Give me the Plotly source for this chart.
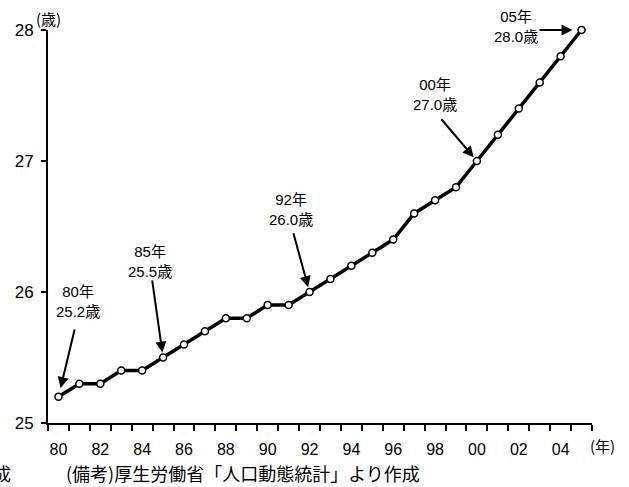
import plotly.graph_objects as go

# Average age of mothers at first birth, 1980-2005
years = list(range(1980, 2006))
ages = [25.2, 25.3, 25.3, 25.4, 25.4, 25.5, 25.6, 25.7, 25.8, 25.8,
        25.9, 25.9, 26.0, 26.1, 26.2, 26.3, 26.4, 26.6, 26.7, 26.8,
        27.0, 27.2, 27.4, 27.6, 27.8, 28.0]

x_tick_vals = list(range(1980, 2005, 2))
x_tick_text = [f"{y % 100:02d}" for y in x_tick_vals]
y_tick_vals = [25, 26, 27, 28]

# Highlighted years: (year, tail x, tail y, label x, label y (paper), standoff)
callouts = [
    (1980, 1980.79, 25.725, 1980.93, 0.308, 9),
    (1985, 1984.47, 26.10, 1984.38, 0.410, 5),
    (1992, 1991.21, 26.46, 1991.12, 0.543, 5),
    (2000, 1998.24, 27.33, 1998.00, 0.837, 5),
    (2005, 2002.92, 28.00, 2001.87, 1.008, 9),
]

LATIN = "Liberation Sans, Arial, Noto Sans CJK JP"
CJK = "Noto Sans CJK JP, Liberation Sans"

fig = go.Figure()
fig.add_trace(go.Scatter(
    x=years, y=ages, mode="lines+markers",
    line=dict(color="black", width=3.5),
    marker=dict(symbol="circle", size=7, color="white",
                line=dict(color="black", width=1.5)),
    cliponaxis=False, showlegend=False, hoverinfo="skip",
))

annotations = []
lookup = dict(zip(years, ages))
for yr, tx, ty, lx, ly, so in callouts:
    val = lookup[yr]
    annotations.append(dict(
        x=yr, y=val, ax=tx, ay=ty, xref="x", yref="y", axref="x", ayref="y",
        text="", showarrow=True, arrowhead=2, arrowsize=1.1, arrowwidth=2,
        arrowcolor="black", standoff=so,
    ))
    annotations.append(dict(
        x=lx, y=ly, xref="x", yref="paper", showarrow=False,
        text=f"{yr % 100:02d}年<br>{val:.1f}歳",
        font=dict(family=LATIN, size=15, color="black"),
        xanchor="center", yanchor="middle",
    ))

annotations += [
    dict(x=0.0, y=1.03, xref="paper", yref="paper", text="(歳)",
         showarrow=False, xanchor="center", yanchor="middle",
         font=dict(family=CJK, size=15, color="black")),
    dict(x=0.993, y=-0.056, xref="paper", yref="paper", text="(年)",
         showarrow=False, xanchor="left", yanchor="middle",
         font=dict(family=CJK, size=15, color="black")),
    dict(x=0.03, y=-0.128, xref="paper", yref="paper",
         text="(備考)厚生労働省「人口動態統計」より作成",
         showarrow=False, xanchor="left", yanchor="middle",
         font=dict(family=CJK, size=18, color="black")),
    dict(x=-0.064, y=-0.128, xref="paper", yref="paper", text="成",
         showarrow=False, xanchor="right", yanchor="middle",
         font=dict(family=CJK, size=18, color="black")),
]

fig.update_layout(
    width=629, height=487,
    margin=dict(l=48, r=37, t=30, b=64),
    paper_bgcolor="white", plot_bgcolor="white",
    font=dict(family=LATIN, color="black"),
    annotations=annotations,
    xaxis=dict(
        range=[1979.5, 2005.5], showgrid=False, zeroline=False,
        showline=True, linecolor="black", linewidth=2,
        tickvals=x_tick_vals, ticktext=x_tick_text,
        ticks="outside", ticklen=6, tickcolor="rgba(0,0,0,0)",
        ticklabelstandoff=5,
        tickfont=dict(family=LATIN, size=16, color="black"),
        minor=dict(tickvals=[y - 0.5 for y in years] + [2005.5],
                   ticks="outside", ticklen=6, tickwidth=1.5,
                   tickcolor="black", showgrid=False),
    ),
    yaxis=dict(
        range=[25, 28], showgrid=False, zeroline=False,
        showline=True, linecolor="black", linewidth=2,
        tickvals=y_tick_vals, ticks="outside", ticklen=5, tickwidth=1.5,
        tickcolor="black", ticklabelstandoff=4,
        tickfont=dict(family=LATIN, size=17, color="black"),
    ),
)

fig.write_html("out.html")
